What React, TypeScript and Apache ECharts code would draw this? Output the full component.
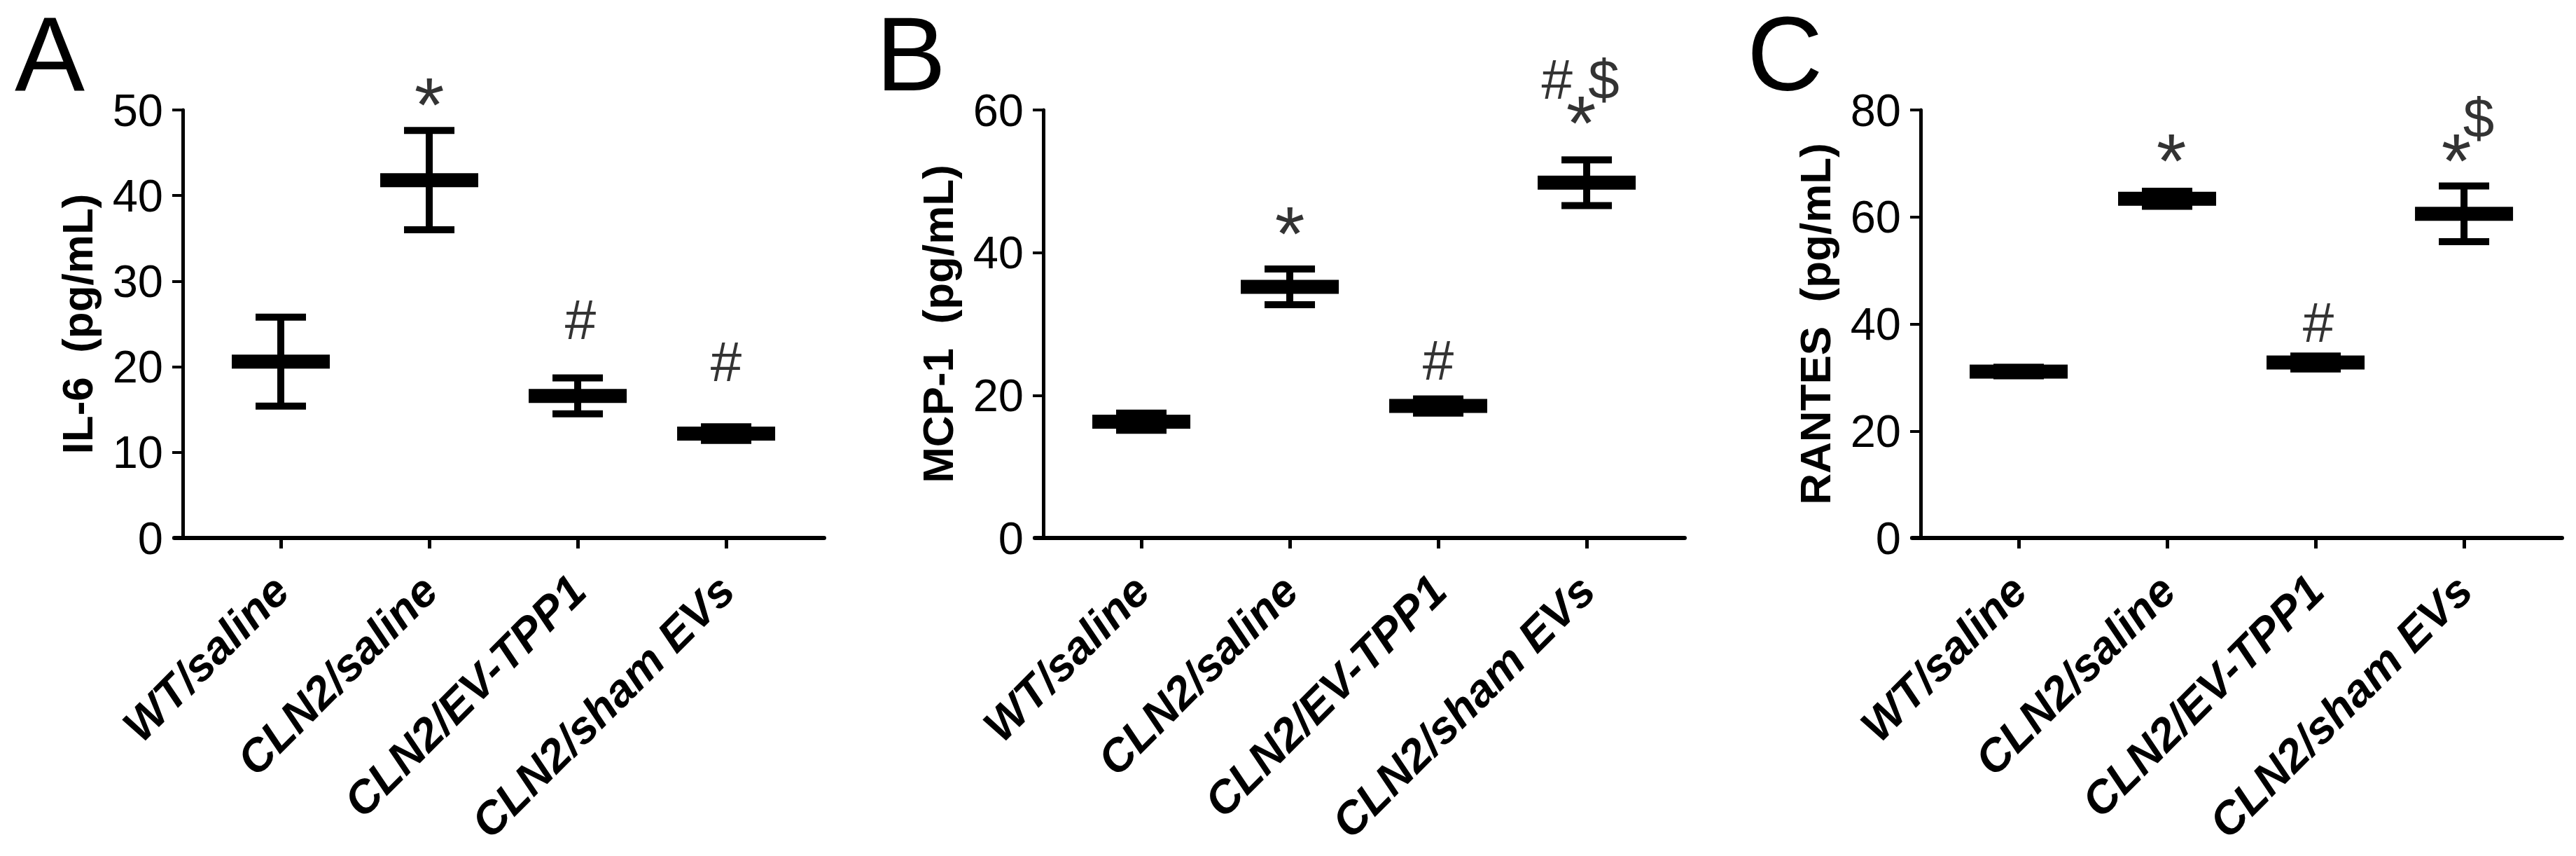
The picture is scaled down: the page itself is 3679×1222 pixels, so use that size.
import React, { useEffect, useRef } from "react";
import * as echarts from "echarts";

const categories = ["WT/saline", "CLN2/saline", "CLN2/EV-TPP1", "CLN2/sham EVs"];

const il6Mean = [20.6, 41.8, 16.6, 12.2];
const il6Sem = [5.2, 5.8, 2.1, 0.8];
const mcp1Mean = [16.3, 35.2, 18.5, 49.8];
const mcp1Sem = [1.2, 2.5, 1.0, 3.2];
const rantesMean = [31.1, 63.4, 32.8, 60.6];
const rantesSem = [0.8, 1.4, 1.2, 5.2];

const panelLetters = ["A", "B", "C"];
const yTitles = ["IL-6  (pg/mL)", "MCP-1  (pg/mL)", "RANTES  (pg/mL)"];
const yMax = [50, 60, 80];
const yInterval = [10, 20, 20];

// annotations: [categoryIndex, yValue, text, xOffsetPx]
const il6Marks: [number, number, string, number][] = [
  [1, 50.7, "*", 0],
  [2, 25.5, "#", 4],
  [3, 20.6, "#", 0],
];
const mcp1Marks: [number, number, string, number][] = [
  [1, 42.8, "*", 0],
  [2, 24.9, "#", 0],
  [3, 64.3, "# $", -9],
  [3, 58.3, "*", -8],
];
const rantesMarks: [number, number, string, number][] = [
  [1, 70.7, "*", 6],
  [2, 40.3, "#", 4],
  [3, 70.7, "*", -11],
  [3, 78.5, "$", 21],
];

const FONT = "Liberation Sans";

export default function App() {
  const ref = useRef<HTMLDivElement>(null);
  useEffect(() => {
    if (!ref.current) return;
    const chart = echarts.init(ref.current, null, { renderer: "svg" });
    const grids = [
      { left: 249, top: 157, width: 928, height: 611 },
      { left: 1478, top: 157, width: 928, height: 611 },
      { left: 2731, top: 157, width: 928, height: 611 },
    ];
    const means = [il6Mean, mcp1Mean, rantesMean];
    const sems = [il6Sem, mcp1Sem, rantesSem];
    const marks = [il6Marks, mcp1Marks, rantesMarks];
    const letterLeft = [16, 1246, 2490];

    const xAxis = grids.map((_, i) => ({
      type: "value",
      gridIndex: i,
      min: -0.717,
      max: 3.66,
      splitLine: { show: false },
      axisLine: { show: true, onZero: false, lineStyle: { color: "#000", width: 6 } },
      axisTick: {
        show: true,
        customValues: [0, 1, 2, 3],
        length: 15,
        lineStyle: { color: "#000", width: 5 },
      },
      axisLabel: {
        customValues: [0, 1, 2, 3],
        formatter: (v: number) => categories[Math.round(v)] ?? "",
        rotate: 45,
        margin: 64,
        color: "#000",
        fontFamily: FONT,
        fontWeight: "bold",
        fontStyle: "italic",
        fontSize: 65,
      },
    }));
    const yAxis = grids.map((_, i) => ({
      type: "value",
      gridIndex: i,
      offset: -12,
      min: 0,
      max: yMax[i],
      interval: yInterval[i],
      splitLine: { show: false },
      axisLine: { show: true, onZero: false, lineStyle: { color: "#000", width: 5 } },
      axisTick: { show: true, length: 15, lineStyle: { color: "#000", width: 4 } },
      axisLabel: { margin: 28, color: "#000", fontFamily: FONT, fontSize: 65 },
      name: yTitles[i],
      nameLocation: "middle",
      nameGap: 120,
      nameRotate: 90,
      nameTextStyle: { color: "#000", fontFamily: FONT, fontWeight: "bold", fontSize: 62 },
    }));

    const series: any[] = [];
    grids.forEach((_, g) => {
      series.push({
        type: "custom",
        xAxisIndex: g,
        yAxisIndex: g,
        clip: false,
        data: means[g].map((m, i) => [i, m, sems[g][i]]),
        renderItem: (params: any, api: any) => {
          const i = api.value(0);
          const m = api.value(1);
          const e = api.value(2);
          const c = api.coord([i, m]);
          const hi = api.coord([i, m + e]);
          const lo = api.coord([i, m - e]);
          const st = { stroke: "#000", lineWidth: 10 };
          return {
            type: "group",
            children: [
              { type: "line", shape: { x1: c[0], y1: hi[1], x2: c[0], y2: lo[1] }, style: st },
              { type: "line", shape: { x1: c[0] - 36, y1: hi[1], x2: c[0] + 36, y2: hi[1] }, style: st },
              { type: "line", shape: { x1: c[0] - 36, y1: lo[1], x2: c[0] + 36, y2: lo[1] }, style: st },
              { type: "line", shape: { x1: c[0] - 70, y1: c[1], x2: c[0] + 70, y2: c[1] }, style: { stroke: "#000", lineWidth: 20 } },
            ],
          };
        },
      });
      series.push({
        type: "scatter",
        xAxisIndex: g,
        yAxisIndex: g,
        clip: false,
        symbolSize: 1,
        itemStyle: { color: "rgba(0,0,0,0)" },
        data: marks[g].map(([i, v, t, dx]) => ({
          value: [i, v],
          label: {
            show: true,
            position: "inside",
            offset: [dx, 0],
            formatter: t,
            color: "#000",
            fontFamily: FONT,
            fontSize: t === "*" ? 110 : 80,
            lineHeight: t === "*" ? 46 : 60,
          },
        })),
      });
    });

    chart.setOption({
      animation: false,
      title: panelLetters.map((l, i) => ({
        text: l,
        left: letterLeft[i],
        top: 4,
        textStyle: { fontFamily: FONT, fontWeight: "normal", fontSize: 150, lineHeight: 136, color: "#000" },
      })),
      grid: grids,
      xAxis,
      yAxis,
      series,
    });
    return () => chart.dispose();
  }, []);
  return (
    <div
      ref={ref}
      style={{ position: "fixed", left: 0, top: 0, width: 3679, height: 1222, background: "#fff" }}
    />
  );
}
